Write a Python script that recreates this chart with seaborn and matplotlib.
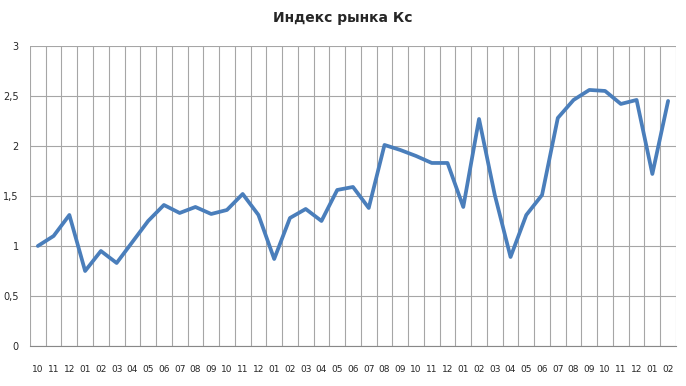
import numpy as np
import pandas as pd
import seaborn as sns
import matplotlib.pyplot as plt
from matplotlib.ticker import FixedLocator, FuncFormatter

# Месяцы (подписи оси X)
months = ["10", "11", "12", "01", "02", "03", "04", "05", "06", "07", "08", "09",
          "10", "11", "12", "01", "02", "03", "04", "05", "06", "07", "08", "09",
          "10", "11", "12", "01", "02", "03", "04", "05", "06", "07", "08", "09",
          "10", "11", "12", "01", "02"]

# Значения индекса
index_kc = [1.00, 1.10, 1.31, 0.75, 0.95, 0.83, 1.04, 1.25, 1.41, 1.33, 1.39, 1.32,
            1.36, 1.52, 1.31, 0.87, 1.28, 1.37, 1.25, 1.56, 1.59, 1.38, 2.01, 1.96,
            1.90, 1.83, 1.83, 1.39, 2.27, 1.51, 0.89, 1.31, 1.51, 2.28, 2.46, 2.56,
            2.55, 2.42, 2.46, 1.72, 2.45]

df = pd.DataFrame({"pos": np.arange(len(months)), "month": months, "value": index_kc})

sns.set_style("white")
plt.rcParams['font.family'] = ['DejaVu Sans']

fig = plt.figure(figsize=(6.86, 3.86), dpi=100)
ax = fig.add_axes([0.0437, 0.1036, 0.9417, 0.7774])

sns.lineplot(data=df, x="pos", y="value", color="#4a7ebb", linewidth=2.7, ax=ax)

n = len(months)
ax.set_xlim(-0.5, n - 0.5)
ax.set_ylim(0, 3)

# подписи по центру категорий, сетка по границам
ax.set_xticks(df["pos"])
ax.set_xticklabels(months, fontsize=6.5)
ax.xaxis.set_minor_locator(FixedLocator(np.arange(n + 1) - 0.5))
ax.tick_params(axis="x", which="major", length=0, pad=14)
ax.tick_params(axis="x", which="minor", length=4, color="#888888", width=0.8)
ax.grid(False)
ax.grid(True, axis="x", which="minor", color="#a6a6a6", linewidth=0.8)

ax.set_yticks([0, 0.5, 1, 1.5, 2, 2.5, 3])
ax.yaxis.set_major_formatter(FuncFormatter(lambda v, p: ("%g" % v).replace(".", ",")))
ax.tick_params(axis="y", length=0, labelsize=7, pad=8)
ax.grid(True, axis="y", which="major", color="#a6a6a6", linewidth=0.8)

for s in ["top", "right", "left"]:
    ax.spines[s].set_visible(False)
ax.spines["bottom"].set_color("#888888")
ax.spines["bottom"].set_linewidth(0.8)

ax.set_xlabel("")
ax.set_ylabel("")
fig.text(0.5, 0.953, "Индекс рынка Кс", ha="center", va="center",
         fontsize=10, fontweight="bold")

fig.savefig("out.png", dpi=100)
